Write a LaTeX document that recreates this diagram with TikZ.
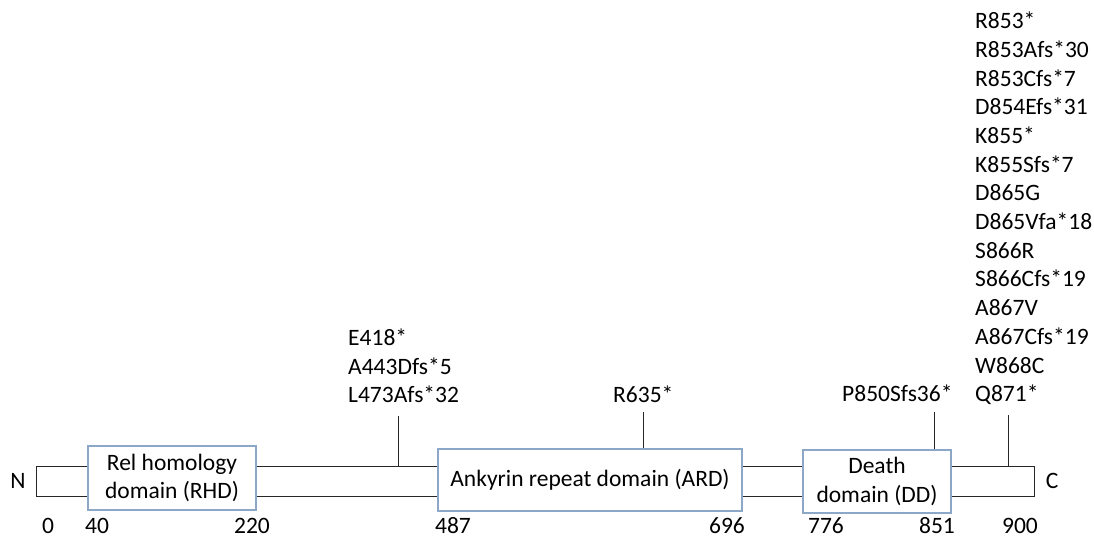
\documentclass[tikz,border=0pt]{standalone}
\usepackage{fontspec}
\setmainfont{Carlito}
\usepackage{tikz}
\usetikzlibrary{positioning}
\definecolor{BoxBlue}{HTML}{8DA7C6}
\definecolor{Black85}{HTML}{262626}

\begin{document}
\begin{tikzpicture}[
    x=1pt, y=1pt,
    dombox/.style={draw=BoxBlue, line width=1.1pt, fill=white, align=center, inner sep=0pt, font=\fontsize{23.5}{28.7}\selectfont},
    mutlabel/.style={anchor=south west, align=left, inner sep=0pt, text depth=0pt, font=\fontsize{23.5}{28.7}\selectfont},
    aanum/.style={anchor=base, inner sep=0pt, font=\fontsize{23.5}{28.7}\selectfont},
    backbone/.style={draw=Black85, line width=1pt},
    mutline/.style={draw=Black85, line width=0.9pt},
    every node/.style={font=\fontsize{23.5}{28.7}\selectfont}
]
\useasboundingbox (0,0) rectangle (1094,538);

% Domains
\node[dombox, minimum width=168pt, minimum height=64pt] (rhd) at (172,60) {Rel homology\\domain (RHD)};
\node[dombox, minimum width=304pt, minimum height=62pt] (ard) at (590,58) {Ankyrin repeat domain (ARD)};
\node[dombox, minimum width=148pt, minimum height=63pt] (dd) at (877,56.5) {Death\\domain (DD)};

% Backbone
\coordinate (nt) at (36,72);
\coordinate (nb) at (36,42);
\coordinate (ct) at (1034,72);
\coordinate (cb) at (1034,42);
\draw[backbone] (rhd.west |- nt) -- (nt) -- (nb) -- (rhd.west |- nb);
\draw[backbone] (rhd.east |- nt) -- (ard.west |- nt);
\draw[backbone] (rhd.east |- nb) -- (ard.west |- nb);
\draw[backbone] (ard.east |- nt) -- (dd.west |- nt);
\draw[backbone] (ard.east |- nb) -- (dd.west |- nb);
\draw[backbone] (dd.east |- ct) -- (ct) -- (cb) -- (dd.east |- cb);

\node (nterm) at (18,57) {N};
\node (cterm) at (1052,57) {C};

% Residue numbers
\foreach \p/\x in {0/48, 40/97, 220/252, 487/453, 696/727, 776/826, 851/937, 900/1020}
    \node[aanum] (aa\p) at (\x,5) {\p};

% Mutations
\node[mutlabel] (m418) at (348,135) {E418*\\A443Dfs*5\\L473Afs*32};
\node[mutlabel] (m635) at (613,135) {R635*};
\node[mutlabel] (m850) at (842,136) {P850Sfs36*};
\node[mutlabel] (m853) at (975,136) {R853*\\R853Afs*30\\R853Cfs*7\\D854Efs*31\\K855*\\K855Sfs*7\\D865G\\D865Vfa*18\\S866R\\S866Cfs*19\\A867V\\A867Cfs*19\\W868C\\Q871*};

\coordinate (s418) at (398,122);
\coordinate (s635) at (643,126);
\coordinate (s850) at (934,126);
\coordinate (s853) at (1008,123);
\draw[mutline] (s418 |- nt) -- (s418);
\draw[mutline] (ard.north -| s635) -- (s635);
\draw[mutline] (dd.north -| s850) -- (s850);
\draw[mutline] (s853 |- ct) -- (s853);

\end{tikzpicture}
\end{document}
